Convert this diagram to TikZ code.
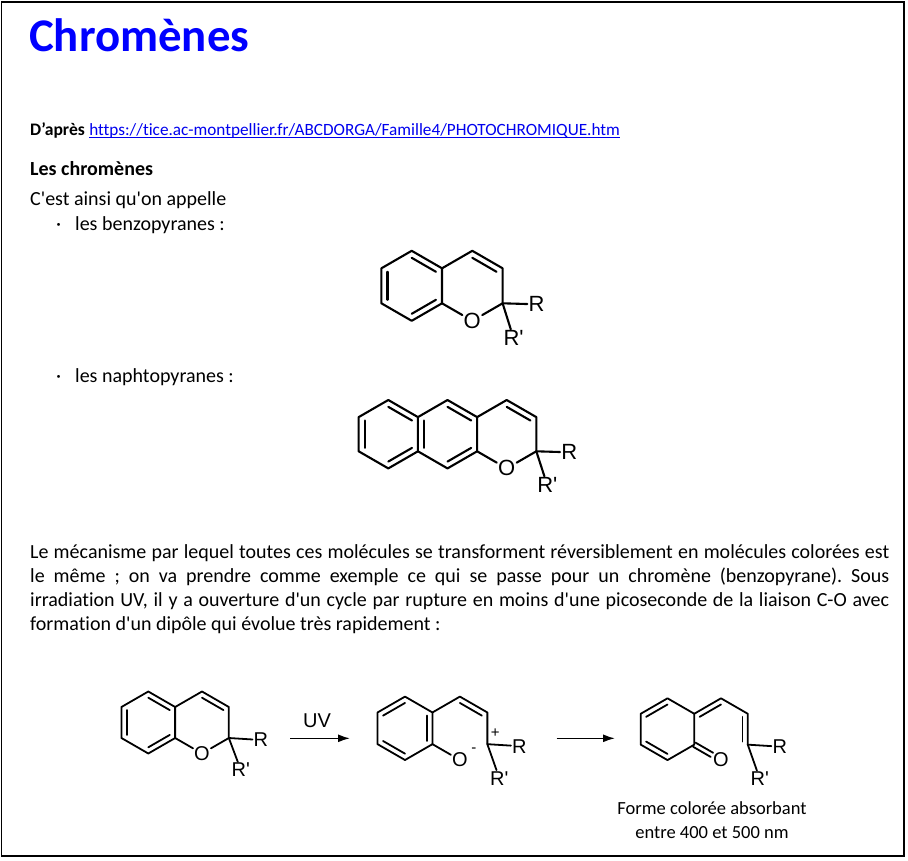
\documentclass[tikz,border=0pt]{standalone}
\usepackage{fontspec}
\setmainfont{Carlito}[Ligatures={TeXOff,NoCommon}]
\newfontfamily\molfont{Liberation Sans}[Ligatures={TeXOff,NoCommon}]
\usetikzlibrary{calc}
\usetikzlibrary{arrows.meta}
\definecolor{titleblue}{RGB}{0,0,255}
\definecolor{linkblue}{RGB}{0,0,238}
\frenchspacing
\tikzset{
	txt/.style={inner sep=0pt, anchor=base west, font=\fontsize{20}{24}\selectfont},
	bond/.style={line width=2.1pt, line cap=round, line join=round},
	sbond/.style={line width=1.8pt, line cap=round, line join=round},
	atom/.style={inner sep=1.2pt, font=\molfont\fontsize{22}{22}\selectfont},
	satom/.style={inner sep=1pt, font=\molfont\fontsize{20}{20}\selectfont},
	charge/.style={inner sep=0pt, font=\molfont\fontsize{15}{15}\selectfont},
	rxn/.style={line width=1.5pt, -{Latex[length=12pt,width=8pt]}}
}
% six corners of a ring: top, upper left, lower left, bottom, lower right, upper right
\newcommand{\hexpts}[3]{%
	\foreach \k/\ang in {1/270,2/210,3/150,4/90,5/30,6/330}{\coordinate (#1\k) at ($#2+(\ang:#3)$);}}
% second line of a double bond, on the side of the given centre
\newcommand{\ringdbl}[4][bond]{\draw[#1] ($(#2)!0.2!(#4)$) -- ($(#3)!0.2!(#4)$);}

\begin{document}
\begin{tikzpicture}[x=1pt,y=-1pt]
	\useasboundingbox (0,0) rectangle (908,860);
	\draw[line width=1.3pt] (1.5,2) rectangle (904,856);

	% texts
	\node[txt, font=\fontsize{46.8}{50}\selectfont\bfseries, text=titleblue] (title) at (29,51) {Chromènes};
	\node[txt, font=\fontsize{17.6}{21}\selectfont\bfseries] (src) at (30,135) {D’après};
	\node[txt, font=\fontsize{17.2}{21}\selectfont, text=linkblue] (link) at ($(src.base east)+(4,0)$) {https://tice.ac-montpellier.fr/ABCDORGA/Famille4/PHOTOCHROMIQUE.htm};
	\draw[linkblue, line width=1pt] ($(link.base west)+(0,2.5)$) -- ($(link.base east)+(0,2.5)$);
	\node[txt, font=\fontsize{20}{24}\selectfont\bfseries] (sect) at (30,175) {Les chromènes};
	\node[txt] (intro) at (30,205) {C'est ainsi qu'on appelle};
	\node[txt] (dot1) at (56,230) {·};
	\node[txt] (item1) at (75,230) {les benzopyranes :};
	\node[txt] (dot2) at (56,382) {·};
	\node[txt] (item2) at (75,382) {les naphtopyranes :};
	\node[txt] (par1) at (30,558) {\makebox[859pt][s]{Le mécanisme par lequel toutes ces molécules se transforment réversiblement en molécules colorées est}};
	\node[txt] (par2) at (30,582) {\makebox[859pt][s]{le même ; on va prendre comme exemple ce qui se passe pour un chromène (benzopyrane). Sous}};
	\node[txt] (par3) at (30,606) {\makebox[859pt][s]{irradiation UV, il y a ouverture d'un cycle par rupture en moins d'une picoseconde de la liaison C-O avec}};
	\node[txt] (par4) at (30,630) {formation d'un dipôle qui évolue très rapidement :};
	\node[txt, anchor=base, font=\fontsize{18.5}{22}\selectfont] (cap1) at (712,814) {Forme colorée absorbant};
	\node[txt, anchor=base, font=\fontsize{18.5}{22}\selectfont] (cap2) at (712,838) {entre 400 et 500 nm};

	% benzopyrane
	\coordinate (bc) at (411.7,285.8);
	\coordinate (pc) at (472.3,285.8);
	\hexpts{b}{(bc)}{35}
	\hexpts{p}{(pc)}{35}
	\node[atom] (bo) at (p4) {O};
	\node[atom] (br) at ($(p5)+(34,1)$) {R};
	\node[atom] (brp) at ($(p5)+(11,35)$) {R'};
	\draw[bond] (b1) -- (b2) -- (b3) -- (b4) -- (b5) -- (b6) -- cycle;
	\draw[bond] (b6) -- (p1) -- (p6) -- (p5) -- (bo);
	\draw[bond] (b5) -- (bo);
	\draw[bond] (p5) -- (br);
	\draw[bond] (p5) -- (brp);
	\ringdbl{b2}{b3}{bc} \ringdbl{b1}{b6}{bc} \ringdbl{b4}{b5}{bc} \ringdbl{p1}{p6}{pc}

	% naphtopyrane
	\coordinate (nac) at (388.3,434.2);
	\coordinate (nbc) at (447.5,434.2);
	\coordinate (ncc) at (506.7,434.2);
	\hexpts{na}{(nac)}{34.2}
	\hexpts{nb}{(nbc)}{34.2}
	\hexpts{nc}{(ncc)}{34.2}
	\node[atom] (no) at (nc4) {O};
	\node[atom] (nr) at ($(nc5)+(33,1)$) {R};
	\node[atom] (nrp) at ($(nc5)+(11,34)$) {R'};
	\draw[bond] (na1) -- (na2) -- (na3) -- (na4) -- (na5) -- (na6) -- cycle;
	\draw[bond] (na6) -- (nb1) -- (nb6) -- (nb5) -- (nb4) -- (na5);
	\draw[bond] (nb6) -- (nc1) -- (nc6) -- (nc5) -- (no);
	\draw[bond] (nb5) -- (no);
	\draw[bond] (nc5) -- (nr);
	\draw[bond] (nc5) -- (nrp);
	\ringdbl{na2}{na3}{nac} \ringdbl{na1}{na6}{nac} \ringdbl{na4}{na5}{nac}
	\ringdbl{nb2}{nb3}{nbc} \ringdbl{nb1}{nb6}{nbc} \ringdbl{nb4}{nb5}{nbc}
	\ringdbl{nc1}{nc6}{ncc}

	% reaction: chromene
	\coordinate (ac) at (148.3,722.5);
	\coordinate (apc) at (202,722.5);
	\hexpts{a}{(ac)}{31}
	\hexpts{ap}{(apc)}{31}
	\node[satom] (ao) at (ap4) {O};
	\node[satom] (ar) at ($(ap5)+(32,2)$) {R};
	\node[satom] (arp) at ($(ap5)+(12,32)$) {R'};
	\draw[sbond] (a1) -- (a2) -- (a3) -- (a4) -- (a5) -- (a6) -- cycle;
	\draw[sbond] (a6) -- (ap1) -- (ap6) -- (ap5) -- (ao);
	\draw[sbond] (a5) -- (ao);
	\draw[sbond] (ap5) -- (ar);
	\draw[sbond] (ap5) -- (arp);
	\ringdbl[sbond]{a2}{a3}{ac} \ringdbl[sbond]{a1}{a6}{ac} \ringdbl[sbond]{a4}{a5}{ac} \ringdbl[sbond]{ap1}{ap6}{apc}

	\coordinate (uva) at (290,738.3);
	\coordinate (uvb) at (350,738.3);
	\draw[rxn] (uva) -- node[satom, above=9pt, xshift=-3pt] (uv) {UV} (uvb);

	% reaction: dipole
	\coordinate (ic) at (405,728.3);
	\coordinate (jc) at (459.9,728.3);
	\hexpts{i}{(ic)}{31.7}
	\hexpts{j}{(jc)}{31.7}
	\node[satom] (io) at (j4) {O};
	\node[charge] (iminus) at ($(io)+(14,-10)$) {-};
	\node[charge] (iplus) at ($(j5)+(8,-11)$) {+};
	\node[satom] (ir) at ($(j5)+(32,2)$) {R};
	\node[satom] (irp) at ($(j5)+(12,34)$) {R'};
	\draw[sbond] (i1) -- (i2) -- (i3) -- (i4) -- (i5) -- (i6) -- cycle;
	\draw[sbond] (i6) -- (j1) -- (j6) -- (j5);
	\draw[sbond] (i5) -- (io);
	\draw[sbond] (j5) -- (ir);
	\draw[sbond] (j5) -- (irp);
	\ringdbl[sbond]{i1}{i2}{ic} \ringdbl[sbond]{i5}{i6}{ic} \ringdbl[sbond]{i3}{i4}{ic} \ringdbl[sbond]{j1}{j6}{jc}

	\coordinate (tra) at (556.7,738.3);
	\coordinate (trb) at (615,738.3);
	\draw[rxn] (tra) -- (trb);

	% reaction: coloured form
	\coordinate (kc) at (667.5,729.2);
	\coordinate (kpc) at (721,729.2);
	\hexpts{k}{(kc)}{30.9}
	\hexpts{kp}{(kpc)}{30.9}
	\node[satom] (ko) at (kp4) {O};
	\node[satom] (kr) at ($(kp5)+(32,2)$) {R};
	\node[satom] (krp) at ($(kp5)+(12,34)$) {R'};
	\draw[sbond] (k1) -- (k2) -- (k3) -- (k4) -- (k5) -- (k6) -- cycle;
	\draw[sbond] (k6) -- (kp1) -- (kp6) -- (kp5);
	\draw[sbond] (kp5) -- (kr);
	\draw[sbond] (kp5) -- (krp);
	\coordinate (koe) at ($(k5)!0.66!(ko)$);
	\draw[sbond] ($(k5)!2.4pt!90:(koe)$) -- ($(koe)!2.4pt!-90:(k5)$);
	\draw[sbond] ($(k5)!2.4pt!-90:(koe)$) -- ($(koe)!2.4pt!90:(k5)$);
	\ringdbl[sbond]{k1}{k2}{kc} \ringdbl[sbond]{k3}{k4}{kc} \ringdbl[sbond]{k6}{kp1}{kpc} \ringdbl[sbond]{kp6}{kp5}{kpc}
\end{tikzpicture}
\end{document}
